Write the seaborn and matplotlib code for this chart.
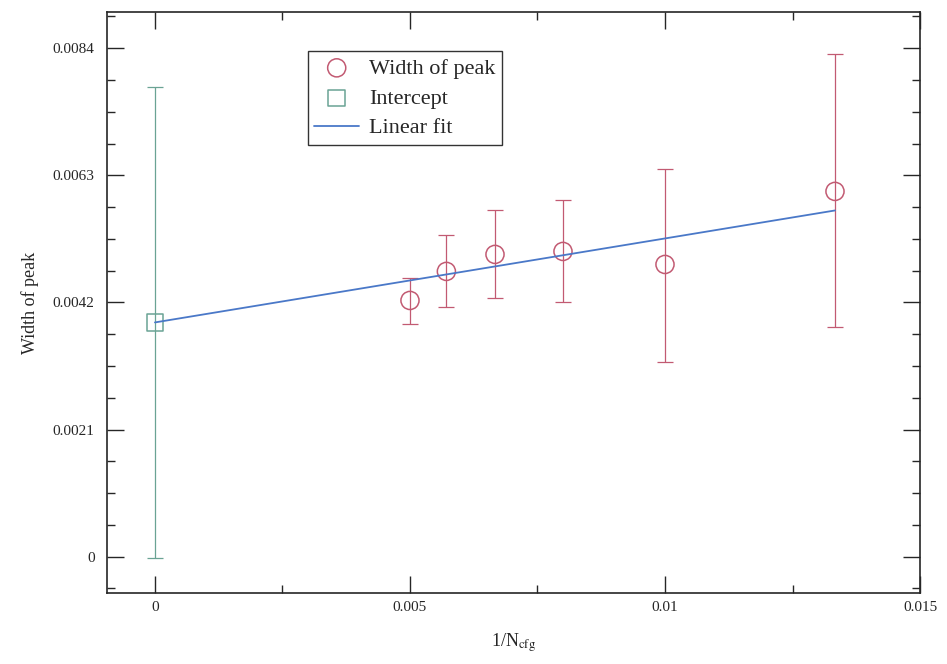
import numpy as np
import pandas as pd
import matplotlib
matplotlib.use("Agg")
import matplotlib.pyplot as plt
from matplotlib.ticker import MultipleLocator
import seaborn as sns

# Data
inv_ncfg = [0.005, 0.005714, 0.006667, 0.008, 0.01, 0.013333]
width = [0.004233, 0.004713, 0.004994, 0.005043, 0.004828, 0.006035]
err_lo = [0.00384, 0.00412, 0.00427, 0.00420, 0.00322, 0.00379]
err_hi = [0.00460, 0.00531, 0.00572, 0.00589, 0.00640, 0.00830]

icpt_x = [0.0]
icpt_y = [0.00387]
icpt_err = [0.00389]

fit_x = [0.0, 0.013333]
fit_y = [0.00387, 0.00572]

RED = "#c25a72"
GREEN = "#6aa394"
BLUE = "#4a78c8"

sns.set_style("ticks")
plt.rcParams["font.family"] = ["Liberation Serif", "DejaVu Serif"]
plt.rcParams["mathtext.fontset"] = "stix"

df = pd.DataFrame({"x": inv_ncfg, "y": width})
yerr = [np.array(width) - np.array(err_lo), np.array(err_hi) - np.array(width)]

fig = plt.figure(figsize=(9.47, 6.64), dpi=100)
ax = fig.add_axes([0.113, 0.107, 0.8585, 0.875])

# error bars
ax.errorbar(inv_ncfg, width, yerr=yerr, fmt="none", ecolor=RED,
            elinewidth=0.9, capsize=6, capthick=0.9, zorder=2)
ax.errorbar(icpt_x, icpt_y, yerr=icpt_err, fmt="none", ecolor=GREEN,
            elinewidth=0.9, capsize=6, capthick=0.9, zorder=2)

# markers
sns.scatterplot(data=df, x="x", y="y", ax=ax, marker="o", s=170,
                facecolor="none", edgecolor=RED, linewidth=1.1,
                label="Width of peak", zorder=3)
sns.scatterplot(x=icpt_x, y=icpt_y, ax=ax, marker="s", s=140,
                facecolor="none", edgecolor=GREEN, linewidth=1.1,
                label="Intercept", zorder=3)
sns.lineplot(x=fit_x, y=fit_y, ax=ax, color=BLUE, linewidth=1.3,
             label="Linear fit", zorder=4)

ax.set_xlim(-0.00094, 0.015)
ax.set_ylim(-0.0006, 0.0090)
ax.set_xticks([0, 0.005, 0.01, 0.015])
ax.set_xticklabels(["0", "0.005", "0.01", "0.015"])
ax.set_yticks([0, 0.0021, 0.0042, 0.0063, 0.0084])
ax.set_yticklabels(["0", "0.0021", "0.0042", "0.0063", "0.0084"])
ax.xaxis.set_minor_locator(MultipleLocator(0.0025))
ax.yaxis.set_minor_locator(MultipleLocator(0.000525))
ax.tick_params(which="both", direction="in", top=True, right=True,
               labelsize=11, width=1.0)
ax.tick_params(axis="x", pad=6)
ax.tick_params(axis="y", pad=9)
ax.tick_params(which="major", length=12)
ax.tick_params(which="minor", length=6)
for sp in ax.spines.values():
    sp.set_linewidth(1.2)

ax.set_xlabel(r"1/N$_{\rm cfg}$", fontsize=13, labelpad=12)
ax.set_ylabel("Width of peak", fontsize=13, labelpad=10)

leg = ax.legend(loc="upper left", bbox_to_anchor=(0.247, 0.932), fontsize=16,
                frameon=True, fancybox=False, edgecolor="black",
                borderpad=0.3, handletextpad=0.45, labelspacing=0.42,
                handlelength=2.0, borderaxespad=0)
leg.get_frame().set_linewidth(1.0)

fig.savefig("out.png", dpi=100)
